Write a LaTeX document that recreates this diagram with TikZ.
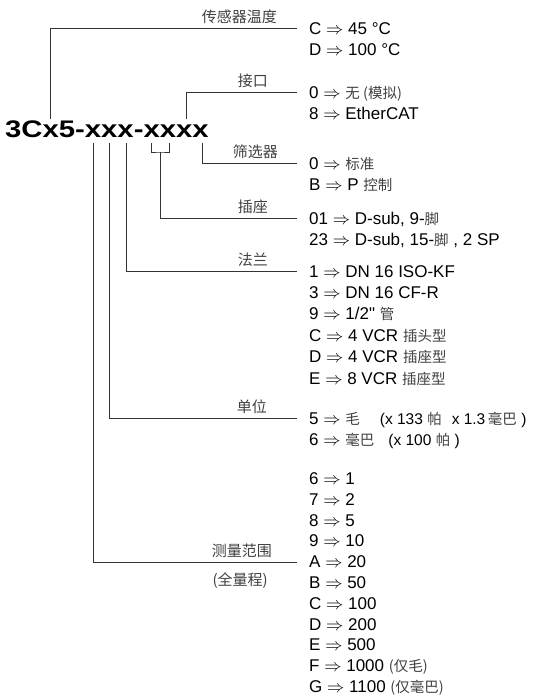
\documentclass[tikz,border=0pt]{standalone}
\usepackage{fontspec}
\setmainfont[Ligatures=TeXOff]{Liberation Sans}
\newfontfamily\cjk{Noto Sans CJK SC}
\newfontfamily\codefont[FakeStretch=1.22]{Liberation Sans}
\usepackage{xcolor}
\usetikzlibrary{positioning}
\newcommand{\zh}[1]{{\cjk\fontsize{14.5}{21.4}\selectfont\color{black!75}#1}}
\newcommand{\sm}[1]{{\fontsize{15.5}{21.4}\selectfont#1}}
\newcommand{\gives}{$\Rightarrow$}

\begin{document}
\begin{tikzpicture}[x=1pt, y=1pt]
\tikzstyle{lead} = [draw=black!80, line width=0.8pt]
\tikzstyle{tag} = [inner sep=0pt, anchor=base east, font=\cjk\fontsize{15}{15}\selectfont, text=black!75]
% base of a list node = baseline of its last line
\tikzstyle{opts} = [inner sep=0pt, anchor=base west, align=left, font=\fontsize{17}{21.4}\selectfont]
\useasboundingbox (0,0) rectangle (544,-696);
% order code
\node (code) [inner sep=0pt, anchor=base west, font=\codefont\bfseries\fontsize{24}{24}\selectfont] at (5,-137) {3Cx5-xxx-xxxx};
% points on the code
\coordinate (tempCode) at (50,-119);
\coordinate (ifaceCode) at (186,-119);
\coordinate (filterCode) at (202,-143);
\coordinate (connL) at (151,-143);
\coordinate (connR) at (169,-143);
\coordinate (connMid) at (160,-152);
\coordinate (flangeCode) at (126,-143);
\coordinate (unitCode) at (109,-143);
\coordinate (rangeCode) at (93,-143);
% line ends
\coordinate (tempEnd) at (297,-28);
\coordinate (ifaceEnd) at (297,-92);
\coordinate (filterEnd) at (297,-163);
\coordinate (connEnd) at (297,-218);
\coordinate (flangeEnd) at (297,-271);
\coordinate (unitEnd) at (297,-418);
\coordinate (rangeEnd) at (297,-562);
% leads
\draw[lead] (tempCode) |- (tempEnd);
\draw[lead] (ifaceCode) |- (ifaceEnd);
\draw[lead] (filterCode) |- (filterEnd);
\draw[lead] (connL) |- (connMid) -| (connR);
\draw[lead] (connMid) |- (connEnd);
\draw[lead] (flangeCode) |- (flangeEnd);
\draw[lead] (unitCode) |- (unitEnd);
\draw[lead] (rangeCode) |- (rangeEnd);
% group names
\node[tag] (tempLbl) at (277,-22) {传感器温度};
\node[tag] (ifaceLbl) at (268,-86) {接口};
\node[tag] (filterLbl) at (278,-157) {筛选器};
\node[tag] (connLbl) at (268,-212) {插座};
\node[tag] (flangeLbl) at (268,-265) {法兰};
\node[tag] (unitLbl) at (267,-412) {单位};
\node[tag] (rangeLbl) at (272,-556) {测量范围};
\node[tag] (rangeNote) at (268,-585) {(全量程)};
% options
\node[opts] (tempOpt) at (309,-55.4) {C \gives{} 45 °C\\D \gives{} 100 °C};
\node[opts] (ifaceOpt) at (309,-119.4) {0 \gives{} \zh{无 (模拟)}\\8 \gives{} EtherCAT};
\node[opts] (filterOpt) at (309,-190.4) {0 \gives{} \zh{标准}\\B \gives{} P \zh{控制}};
\node[opts] (connOpt) at (309,-245.4) {01 \gives{} D-sub, 9-\zh{脚}\\23 \gives{} D-sub, 15-\zh{脚} , 2 SP};
\node[opts] (flangeOpt) at (309,-384) {1 \gives{} DN 16 ISO-KF\\3 \gives{} DN 16 CF-R\\9 \gives{} 1/2" \zh{管}\\C \gives{} 4 VCR \zh{插头型}\\D \gives{} 4 VCR \zh{插座型}\\E \gives{} 8 VCR \zh{插座型}};
\node[opts] (unitOpt) at (309,-445.4) {5 \gives{} \zh{毛}\hspace{20pt}\sm{(x 133 \zh{帕}\hspace{10pt}x 1.3\,\zh{毫巴} )}\\6 \gives{} \zh{毫巴}\hspace{14pt}\sm{(x 100 \zh{帕} )}};
\node[opts, font=\fontsize{17}{20.8}\selectfont] (rangeOpt) at (309,-692.5) {6 \gives{} 1\\7 \gives{} 2\\8 \gives{} 5\\9 \gives{} 10\\A \gives{} 20\\B \gives{} 50\\C \gives{} 100\\D \gives{} 200\\E \gives{} 500\\F \gives{} 1000 \zh{(仅毛)}\\G \gives{} 1100 \zh{(仅毫巴)}};
\end{tikzpicture}
\end{document}
